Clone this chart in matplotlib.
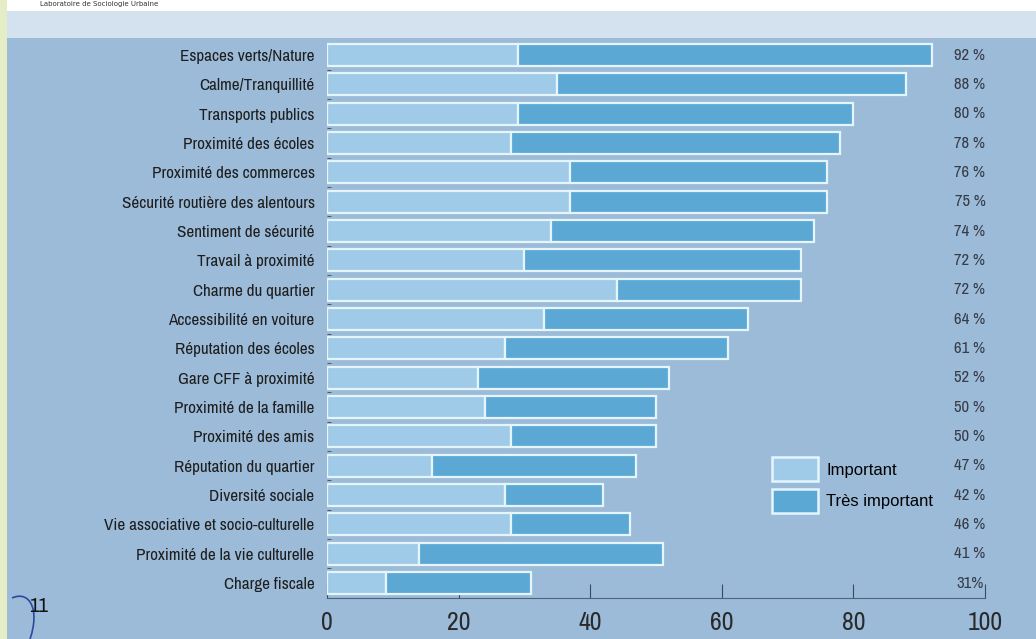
import numpy as np
import matplotlib
matplotlib.use("Agg")
from matplotlib import pyplot as plt
from matplotlib import font_manager, transforms
from matplotlib.patches import Rectangle, Patch, PathPatch
from matplotlib.path import Path

# Data
categories = ["Espaces verts/Nature", "Calme/Tranquillité", "Transports publics",
              "Proximité des écoles", "Proximité des commerces",
              "Sécurité routière des alentours", "Sentiment de sécurité",
              "Travail à proximité", "Charme du quartier", "Accessibilité en voiture",
              "Réputation des écoles", "Gare CFF à proximité", "Proximité de la famille",
              "Proximité des amis", "Réputation du quartier", "Diversité sociale",
              "Vie associative et socio-culturelle", "Proximité de la vie culturelle",
              "Charge fiscale"]
important = [29, 35, 29, 28, 37, 37, 34, 30, 44, 33, 27, 23, 24, 28, 16, 27, 28, 14, 9]
totals = [92, 88, 80, 78, 76, 76, 74, 72, 72, 64, 61, 52, 50, 50, 47, 42, 46, 51, 31]
pct_labels = ["92 %", "88 %", "80 %", "78 %", "76 %", "75 %", "74 %", "72 %", "72 %",
              "64 %", "61 %", "52 %", "50 %", "50 %", "47 %", "42 %", "46 %", "41 %", "31%"]
tres_important = [t - i for t, i in zip(totals, important)]

bg = "#9cbbd8"
light = "#a0cbe8"
dark = "#5ba8d4"
edge = "#e4f6fc"

# look for a narrow font, the original uses a condensed face
narrow = None
for f in font_manager.fontManager.ttflist:
    if "Narrow" in f.name or "Condensed" in f.name:
        narrow = dict(family=f.name, stretch="normal")
        break
if narrow is None:
    for f in font_manager.fontManager.ttflist:
        if f.stretch in ("condensed", "semi-condensed") or f.stretch in (500, 600):
            narrow = dict(family=f.name, stretch=f.stretch)
            break
if narrow is None:
    narrow = dict(family="Liberation Sans", stretch="normal")
    lab_size, tick_size, pct_size = 10.5, 15, 10.5
else:
    lab_size, tick_size, pct_size = 12.3, 18.5, 12

fig = plt.figure(figsize=(10.36, 6.39), dpi=100, facecolor=bg)

# slide decoration: top white strip, light band, left strip
fig.patches.append(Rectangle((0, 1 - 38 / 639), 1, 27 / 639, transform=fig.transFigure,
                             facecolor="#d4e2f0", edgecolor="none", zorder=0))
fig.patches.append(Rectangle((0, 1 - 11 / 639), 1, 11 / 639, transform=fig.transFigure,
                             facecolor="white", edgecolor="none", zorder=0))
fig.patches.append(Rectangle((0, 0), 7 / 1036, 1, transform=fig.transFigure,
                             facecolor="#e4edc6", edgecolor="none", zorder=1))
fig.text(40 / 1036, 1 - 4 / 639, "Laboratoire de Sociologie Urbaine", fontsize=5,
         color="#333333", va="center", ha="left")

ax = fig.add_axes([327 / 1036, (639 - 598) / 639, 658 / 1036, 560 / 639])
ax.set_facecolor("none")

y = np.arange(len(categories))
ax.barh(y, important, height=0.75, color=light, edgecolor=edge, linewidth=1.6, zorder=3)
ax.barh(y, tres_important, left=important, height=0.75, color=dark, edgecolor=edge,
        linewidth=1.6, zorder=3)

ax.set_xlim(0, 100)
ax.set_ylim(18.51, -0.58)
ax.set_yticks(y)
ax.set_yticklabels(categories, fontsize=lab_size, color="#1e1e1e", **narrow)
ax.tick_params(axis="y", length=0, pad=9)
ax.set_yticks(y + 0.5, minor=True)
ax.tick_params(axis="y", which="minor", length=3, direction="in", color="#3a4a5a")

ax.set_xticks(range(0, 101, 20))
ax.set_xticklabels([str(v) for v in range(0, 101, 20)], fontsize=tick_size,
                   color="#2a2a2a", **narrow)
ax.tick_params(axis="x", direction="in", length=10, color="#3a4a5a", pad=9)
# the tick at 20 is only a short nick in the original
ax.xaxis.get_major_ticks()[1].tick1line.set_markersize(3)

for s in ["top", "right", "left"]:
    ax.spines[s].set_visible(False)
ax.spines["bottom"].set_color("#4a6480")

trans = transforms.blended_transform_factory(fig.transFigure, ax.transData)
for yi, lab in zip(y, pct_labels):
    ax.text(970 / 1036, yi, lab, transform=trans, fontsize=pct_size,
            color="#363c48", ha="center", va="center", **narrow)

handles = [Patch(facecolor=light, edgecolor=edge, linewidth=1.8, label="Important"),
           Patch(facecolor=dark, edgecolor=edge, linewidth=1.8, label="Très important")]
ax.legend(handles=handles, loc="upper left", bbox_to_anchor=(0.664, 0.266),
          frameon=False, borderpad=0, handlelength=2.75, handleheight=1.85,
          labelspacing=0.45, handletextpad=0.5,
          prop={"family": "Liberation Sans", "size": 12})

# handwritten mark
fig.text(29 / 1036, 1 - 607 / 639, "11", fontsize=15, color="#111111", ha="left",
         va="center", **narrow)
verts = [(12 / 1036, 1 - 598 / 639), (30 / 1036, 1 - 590 / 639),
         (40 / 1036, 1 - 610 / 639), (30 / 1036, 1 - 639 / 639)]
codes = [Path.MOVETO, Path.CURVE4, Path.CURVE4, Path.CURVE4]
fig.patches.append(PathPatch(Path(verts, codes), transform=fig.transFigure,
                             facecolor="none", edgecolor="#2a4aa0", linewidth=1.2))

plt.savefig("out.png", dpi=100, facecolor=bg)
